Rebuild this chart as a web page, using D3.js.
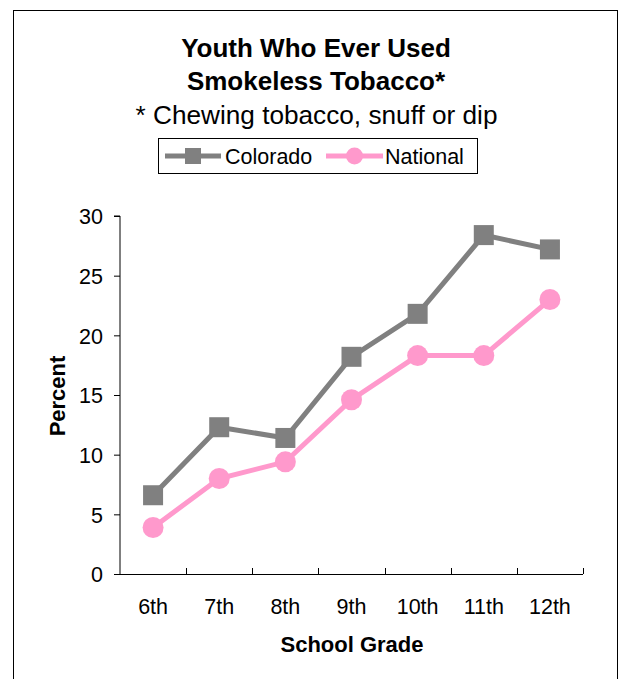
<!DOCTYPE html>
<html>
<head>
<meta charset="utf-8">
<script src="https://cdn.jsdelivr.net/npm/d3@7"></script>
<style>
  html, body { margin: 0; padding: 0; background: #fff; }
  svg { display: block; font-family: "Liberation Sans", Arial, sans-serif; }
</style>
</head>
<body>
<svg id="chart" width="620" height="679"></svg>
<script>
// Share of youth who have ever used smokeless tobacco, by school grade
const grades = ["6th", "7th", "8th", "9th", "10th", "11th", "12th"];
const colorado = [6.6, 12.3, 11.4, 18.2, 21.8, 28.4, 27.2];
const national = [3.9, 8.0, 9.4, 14.6, 18.3, 18.3, 23.0];
const yTicks = [0, 5, 10, 15, 20, 25, 30];

const series = [
  { name: "Colorado", values: colorado, color: "#808080", shape: "square" },
  { name: "National", values: national, color: "#ff99cc", shape: "circle" }
];

const FONT = "Liberation Sans, Arial, sans-serif";
const svg = d3.select("#chart");

// Outer frame
svg.append("rect")
  .attr("x", 13.5).attr("y", 10.5)
  .attr("width", 604).attr("height", 690)
  .attr("fill", "none").attr("stroke", "#000").attr("stroke-width", 1);

// Titles
svg.append("text").attr("x", 316).attr("y", 57)
  .attr("text-anchor", "middle").attr("font-size", 26).attr("font-weight", "bold")
  .text("Youth Who Ever Used");
svg.append("text").attr("x", 316).attr("y", 90)
  .attr("text-anchor", "middle").attr("font-size", 26).attr("font-weight", "bold")
  .text("Smokeless Tobacco*");
svg.append("text").attr("x", 316.5).attr("y", 124)
  .attr("text-anchor", "middle").attr("font-size", 26.2)
  .text("* Chewing tobacco, snuff or dip");

// Scales
const plot = { left: 120, right: 583, top: 216, bottom: 574 };
const x = d3.scaleBand().domain(grades).range([plot.left, plot.right]);
const y = d3.scaleLinear().domain([0, 30]).range([plot.bottom, plot.top]);

// Y axis
const yAxis = svg.append("g")
  .attr("transform", `translate(${plot.left},0)`)
  .call(d3.axisLeft(y).tickValues(yTicks).tickSize(6).tickPadding(11).tickFormat(d3.format("d")));
yAxis.select(".domain").attr("stroke", "#000").attr("d", `M-6,${y(30)}H0V${y(0)}`);
yAxis.selectAll(".tick line").attr("stroke", "#000");
yAxis.selectAll(".tick text").attr("font-size", 21.5).attr("fill", "#000")
  .attr("font-family", FONT).attr("dy", "0.36em");

// X axis (ticks at category boundaries, pointing up)
const xg = svg.append("g").attr("transform", `translate(0,${plot.bottom})`);
xg.append("line").attr("x1", plot.left).attr("x2", plot.right)
  .attr("y1", 0.5).attr("y2", 0.5).attr("stroke", "#000");
const bounds = grades.map(g => x(g)).concat([plot.right]);
xg.selectAll("line.tick").data(bounds.slice(1)).join("line")
  .attr("class", "tick")
  .attr("x1", d => Math.round(d) + 0.5).attr("x2", d => Math.round(d) + 0.5)
  .attr("y1", 0).attr("y2", -6).attr("stroke", "#000");
xg.selectAll("text").data(grades).join("text")
  .attr("x", d => x(d) + x.bandwidth() / 2).attr("y", 40)
  .attr("text-anchor", "middle").attr("font-size", 21.5)
  .text(d => d);

// Axis titles
svg.append("text").attr("x", 352).attr("y", 652)
  .attr("text-anchor", "middle").attr("font-size", 22).attr("font-weight", "bold")
  .text("School Grade");
svg.append("text")
  .attr("transform", "translate(65,396) rotate(-90)")
  .attr("text-anchor", "middle").attr("font-size", 22).attr("font-weight", "bold")
  .text("Percent");

// Lines and markers
const cx = g => x(g) + x.bandwidth() / 2;
const line = d3.line().x(d => cx(d.g)).y(d => y(d.v));

function marker(sel, shape, color, px, py) {
  if (shape === "square") {
    sel.append("rect").attr("x", px - 10).attr("y", py - 10)
      .attr("width", 20).attr("height", 20).attr("fill", color);
  } else {
    sel.append("circle").attr("cx", px).attr("cy", py).attr("r", 10.5).attr("fill", color);
  }
}

series.forEach(s => {
  const pts = grades.map((g, i) => ({ g, v: s.values[i] }));
  svg.append("path").datum(pts)
    .attr("d", line).attr("fill", "none")
    .attr("stroke", s.color).attr("stroke-width", 5).attr("stroke-linejoin", "miter");
  const mg = svg.append("g");
  pts.forEach(p => marker(mg, s.shape, s.color, cx(p.g), y(p.v)));
});

// Legend
const lg = svg.append("g");
lg.append("rect").attr("x", 158.5).attr("y", 138.5).attr("width", 319).attr("height", 35)
  .attr("fill", "#fff").attr("stroke", "#000").attr("stroke-width", 1);
const legendItems = [
  { s: series[0], x0: 165, x1: 221, tx: 225 },
  { s: series[1], x0: 326, x1: 383, tx: 385 }
];
legendItems.forEach(it => {
  lg.append("line").attr("x1", it.x0).attr("x2", it.x1).attr("y1", 156).attr("y2", 156)
    .attr("stroke", it.s.color).attr("stroke-width", 5);
  const mx = (it.x0 + it.x1) / 2;
  if (it.s.shape === "square") {
    lg.append("rect").attr("x", mx - 8).attr("y", 148).attr("width", 16).attr("height", 16)
      .attr("fill", it.s.color);
  } else {
    lg.append("circle").attr("cx", mx).attr("cy", 156).attr("r", 8.5).attr("fill", it.s.color);
  }
  lg.append("text").attr("x", it.tx).attr("y", 164).attr("font-size", 21.5).text(it.s.name);
});
</script>
</body>
</html>
